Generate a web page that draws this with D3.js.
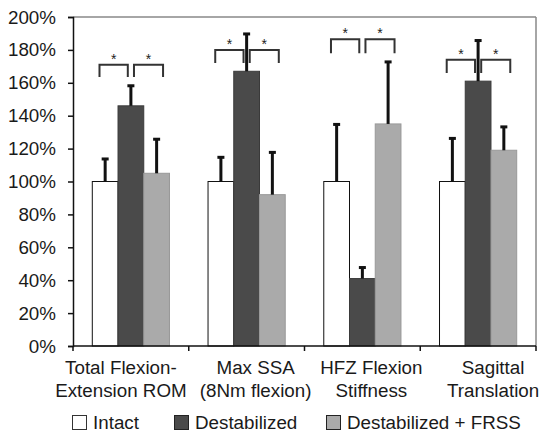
<!DOCTYPE html>
<html>
  <head>
    <meta charset="UTF-8">
    <title>Normalized biomechanics</title>
    <script src="https://cdn.jsdelivr.net/npm/d3@7"></script>
    <style>
      body { margin: 0; background: #fff; }
      svg { font-family: Arial, "Liberation Sans", sans-serif; display: block; }
    </style>
  </head>
  <body>
    <svg width="540" height="434"></svg>
  <script>

    // categories, two lines each
    var categories = ["Total Flexion-|Extension ROM", "Max SSA|(8Nm flexion)", "HFZ Flexion|Stiffness", "Sagittal|Translation"];
    var seriesNames = ["Intact", "Destabilized", "Destabilized + FRSS"];

    // mean values (fraction of intact) per series
    var intact = [1.00, 1.00, 1.00, 1.00];
    var destabilized = [1.46, 1.67, 0.41, 1.61];
    var frss = [1.05, 0.92, 1.35, 1.19];

    // top of error bars
    var intactErr = [1.14, 1.15, 1.35, 1.265];
    var destabilizedErr = [1.585, 1.90, 0.48, 1.86];
    var frssErr = [1.26, 1.18, 1.73, 1.335];

    // significance brackets: top level and leg bottom per category
    var bracketTop = [1.71, 1.80, 1.865, 1.74];
    var bracketBottom = [1.635, 1.72, 1.78, 1.66];

    var yTicks = [0, 0.2, 0.4, 0.6, 0.8, 1.0, 1.2, 1.4, 1.6, 1.8, 2.0];

    var colors = ["#ffffff", "#4a4a4a", "#aaaaaa"];
    var strokes = ["#111111", "#3a3a3a", "#999999"];

    var values = [intact, destabilized, frss];
    var errs = [intactErr, destabilizedErr, frssErr];

    var fontSize = 18.8;
    // horizontal nudge of the category labels (the wrapped labels are not centred under the bars)
    var labelShift = [-10, 9, 9, 15];

    var svg = d3.select("svg"),
    margin = {top: 17, right: 4, bottom: 88, left: 73},
    width = +svg.attr("width") - margin.left - margin.right,
    height = +svg.attr("height") - margin.top - margin.bottom,
    g = svg.append("g").attr("transform", "translate(" + margin.left + "," + margin.top + ")");

    var x = d3.scaleBand()
    .domain(d3.range(categories.length))
    .range([0, width])
    .paddingInner(0.333)
    .paddingOuter(0.1667);

    var xs = d3.scaleBand()
    .domain(d3.range(seriesNames.length))
    .range([0, x.bandwidth()]);

    var y = d3.scaleLinear()
    .domain([0, 2])
    .range([height, 0]);

    // frame: gray top and right
    g.append("line").attr("x1", 0).attr("x2", width).attr("y1", 0).attr("y2", 0)
    .attr("stroke", "#888").attr("stroke-width", 1.5);
    g.append("line").attr("x1", width).attr("x2", width).attr("y1", 0).attr("y2", height)
    .attr("stroke", "#888").attr("stroke-width", 1.5);

    // bars
    var cells = [];
    values.forEach(function(vals, s) {
      vals.forEach(function(v, c) {
        cells.push({s: s, c: c, v: v, e: errs[s][c]});
      });
    });

    g.selectAll("rect.bar")
    .data(cells)
    .enter().append("rect")
    .attr("class", "bar")
    .attr("x", function(d) { return x(d.c) + xs(d.s); })
    .attr("y", function(d) { return y(d.v); })
    .attr("width", xs.bandwidth())
    .attr("height", function(d) { return y(0) - y(d.v); })
    .attr("fill", function(d) { return colors[d.s]; })
    .attr("stroke", function(d) { return strokes[d.s]; })
    .attr("stroke-width", 1);

    // error bars
    function cx(d) { return x(d.c) + xs(d.s) + xs.bandwidth() / 2; }
    g.selectAll("line.err")
    .data(cells)
    .enter().append("line")
    .attr("class", "err")
    .attr("x1", cx).attr("x2", cx)
    .attr("y1", function(d) { return y(d.v); })
    .attr("y2", function(d) { return y(d.e); })
    .attr("stroke", "#111").attr("stroke-width", 3);
    g.selectAll("rect.cap")
    .data(cells)
    .enter().append("rect")
    .attr("class", "cap")
    .attr("x", function(d) { return cx(d) - 3.5; })
    .attr("y", function(d) { return y(d.e) - 1; })
    .attr("width", 7).attr("height", 3)
    .attr("fill", "#111");

    // significance brackets
    var bw = xs.bandwidth();
    categories.forEach(function(cat, c) {
      var c0 = x(c) + xs(0) + bw / 2,
          c1 = x(c) + xs(1) + bw / 2,
          c2 = x(c) + xs(2) + bw / 2;
      var spans = [[c0 - 0.22 * bw, c1 - 0.12 * bw], [c1 + 0.12 * bw, c2 + 0.25 * bw]];
      spans.forEach(function(sp) {
        g.append("path")
        .attr("d", "M" + sp[0] + "," + y(bracketBottom[c]) + "V" + y(bracketTop[c]) +
              "H" + sp[1] + "V" + y(bracketBottom[c]))
        .attr("fill", "none").attr("stroke", "#333").attr("stroke-width", 2);
        g.append("text")
        .attr("x", (sp[0] + sp[1]) / 2)
        .attr("y", y(bracketTop[c]) - 1)
        .attr("text-anchor", "middle")
        .attr("font-size", 14)
        .attr("fill", "#222")
        .text("*");
      });
    });

    // y axis
    var yAxis = g.append("g")
    .call(d3.axisLeft(y).tickValues(yTicks).tickSize(5).tickPadding(12)
          .tickFormat(function(d) { return Math.round(d * 100) + "%"; }));
    yAxis.select(".domain").attr("stroke", "#111").attr("stroke-width", 1.5);
    yAxis.selectAll("line").attr("stroke", "#111").attr("stroke-width", 1.5);
    yAxis.selectAll("text").attr("font-size", fontSize).attr("fill", "#1a1a1a")
    .attr("font-family", "Arial, 'Liberation Sans', sans-serif");

    // x axis: ticks at category boundaries
    var bounds = d3.range(categories.length + 1).map(function(i) {
      return i === 0 ? 0 : (i === categories.length ? width : x(i) - x.step() * x.paddingInner() / 2);
    });
    g.append("line").attr("x1", 0).attr("x2", width).attr("y1", height).attr("y2", height)
    .attr("stroke", "#111").attr("stroke-width", 1.5);
    g.selectAll("line.xtick")
    .data(bounds)
    .enter().append("line")
    .attr("class", "xtick")
    .attr("x1", function(d) { return d; }).attr("x2", function(d) { return d; })
    .attr("y1", height).attr("y2", height + 5)
    .attr("stroke", "#111").attr("stroke-width", 1.5);

    var xl = g.selectAll("text.xlab")
    .data(categories)
    .enter().append("text")
    .attr("class", "xlab")
    .attr("text-anchor", "middle")
    .attr("font-size", fontSize)
    .attr("fill", "#1a1a1a")
    .attr("transform", function(d, i) {
      return "translate(" + (x(i) + x.bandwidth() / 2 + labelShift[i]) + "," + (height + 27.5) + ")";
    });
    xl.selectAll("tspan")
    .data(function(d) { return d.split("|"); })
    .enter().append("tspan")
    .attr("x", 0)
    .attr("dy", function(d, i) { return i === 0 ? 0 : 23.5; })
    .text(function(d) { return d; });

    // legend
    var legendX = [72, 174, 326];
    var legend = svg.append("g").attr("transform", "translate(0,415)");
    seriesNames.forEach(function(name, i) {
      legend.append("rect")
      .attr("x", legendX[i] + 0.5).attr("y", 0.5)
      .attr("width", 14).attr("height", 14)
      .attr("fill", colors[i])
      .attr("stroke", i === 0 ? "#333" : "#222")
      .attr("stroke-width", 1);
      legend.append("text")
      .attr("x", legendX[i] + 21)
      .attr("y", 14.3)
      .attr("font-size", fontSize)
      .attr("fill", "#1a1a1a")
      .text(name);
    });

  </script>
  </body>
</html>
